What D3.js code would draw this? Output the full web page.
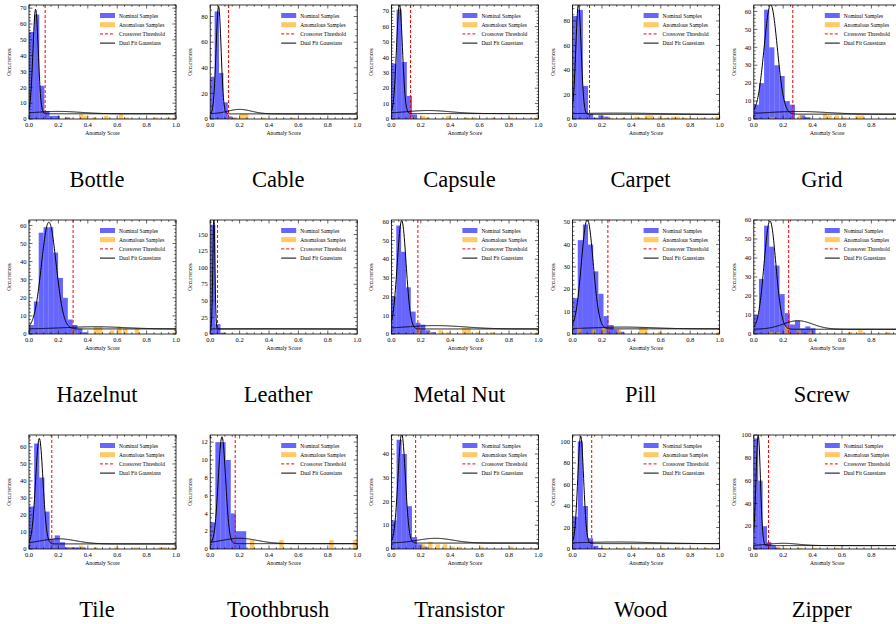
<!DOCTYPE html>
<html>
<head>
<meta charset="utf-8">
<script src="https://cdn.jsdelivr.net/npm/d3@7"></script>
<style>
body { margin: 0; background: #fff; }
svg { display: block; font-family: "Liberation Serif", "DejaVu Serif", serif; }
</style>
</head>
<body>
<div id="chart"></div>
<script>
// categories, one panel each
var categories = ["Bottle", "Cable", "Capsule", "Carpet", "Grid",
                  "Hazelnut", "Leather", "Metal Nut", "Pill", "Screw",
                  "Tile", "Toothbrush", "Transistor", "Wood", "Zipper"];

// nominal histogram: bin width and counts from 0
var nominalWidth = [0.035, 0.03, 0.035, 0.035, 0.035, 0.033, 0.035, 0.033, 0.035, 0.035, 0.035, 0.035, 0.035, 0.035, 0.03];
var nominalCounts = [
  [55, 66, 21, 5, 2, 2, 0, 1],
  [33, 84, 36, 13, 2, 1],
  [36, 71, 37, 15, 3],
  [84, 89, 27, 4, 1, 3, 2],
  [8, 20, 61, 40, 30, 24, 10, 8, 0, 2, 1],
  [5, 18, 56, 59, 59, 45, 31, 20, 8, 5, 3, 1],
  [165, 15, 2],
  [20, 58, 44, 25, 12, 6, 5, 2, 1],
  [16, 42, 49, 40, 28, 18, 8, 4, 2, 1],
  [10, 29, 57, 46, 36, 21, 11, 5, 7, 3, 4, 3],
  [25, 62, 42, 22, 6, 8, 4, 1, 1, 1, 1],
  [3, 12, 12, 10, 4, 2, 2],
  [12, 46, 40, 18, 5, 2, 1],
  [30, 100, 40, 10, 3, 1],
  [97, 60, 20, 6, 3, 1]
];

// anomalous histogram: [bin left edge, count]
var anomalousWidth = 0.03;
var anomalousBins = [
  [[0.25, 1], [0.34, 3], [0.37, 2], [0.43, 1], [0.51, 2], [0.61, 3], [0.65, 1], [0.85, 1], [0.93, 1], [0.98, 1]],
  [[0.13, 1], [0.16, 1], [0.2, 4], [0.23, 4], [0.35, 1], [0.55, 1], [0.98, 1]],
  [[0.13, 1], [0.2, 2], [0.23, 1], [0.37, 2], [0.5, 1], [0.55, 1], [0.68, 1], [0.8, 1], [0.97, 1]],
  [[0.2, 1], [0.25, 1], [0.33, 1], [0.42, 2], [0.45, 1], [0.49, 3], [0.52, 3], [0.58, 2], [0.62, 1], [0.67, 2], [0.7, 2], [0.75, 1], [0.8, 1], [0.87, 1], [0.97, 2]],
  [[0.11, 1], [0.3, 2], [0.47, 3], [0.5, 2], [0.55, 2], [0.6, 1], [0.69, 2], [0.72, 2], [0.95, 1]],
  [[0.29, 1], [0.44, 4], [0.47, 4], [0.55, 2], [0.6, 4], [0.64, 3], [0.72, 3], [0.98, 1]],
  [[0.25, 1], [0.35, 1], [0.45, 1], [0.48, 1], [0.52, 1], [0.8, 1]],
  [[0.17, 2], [0.25, 1], [0.32, 2], [0.37, 1], [0.48, 3], [0.51, 3], [0.57, 1], [0.67, 1], [0.98, 1]],
  [[0.03, 3], [0.13, 2], [0.2, 3], [0.3, 2], [0.45, 3], [0.48, 3], [0.58, 1], [0.98, 1]],
  [[0.1, 1], [0.15, 1], [0.21, 4], [0.29, 2], [0.37, 1], [0.64, 1], [0.71, 2], [0.9, 1]],
  [[0.27, 1], [0.34, 2], [0.44, 1], [0.58, 1], [0.71, 1], [0.88, 1], [0.91, 1], [0.97, 1]],
  [[0.27, 1], [0.47, 1], [0.81, 1], [0.97, 1]],
  [[0.2, 2], [0.25, 3], [0.3, 2], [0.35, 2], [0.4, 1], [0.45, 1], [0.6, 1], [0.8, 1]],
  [[0.2, 1], [0.3, 1], [0.4, 2], [0.5, 1], [0.6, 1], [0.7, 2], [0.8, 1], [0.9, 1]],
  [[0.15, 2], [0.2, 1], [0.3, 1], [0.4, 1], [0.55, 1]]
];

// crossover thresholds
var thresholds = [0.11, 0.125, 0.13, 0.115, 0.265, 0.30, 0.05, 0.18, 0.24, 0.237, 0.155, 0.17, 0.165, 0.13, 0.10];

// fitted gaussians: nominal [amp, mean, sd], anomalous [amp, mean, sd, offset]
var nominalFit = [
  [66, 0.045, 0.018], [84, 0.057, 0.017], [71, 0.055, 0.02], [90, 0.04, 0.018], [61, 0.115, 0.045],
  [59, 0.135, 0.05], [168, 0.025, 0.007], [58, 0.07, 0.03], [49, 0.1, 0.04], [57, 0.11, 0.04],
  [62, 0.07, 0.025], [12, 0.08, 0.025], [46, 0.07, 0.025], [100, 0.055, 0.02], [97, 0.03, 0.015]
];
var anomalousFit = [
  [1.5, 0.2, 0.15, 3.3], [3.5, 0.2, 0.08, 4], [2, 0.25, 0.15, 3.5], [1, 0.3, 0.3, 3.8], [1.5, 0.3, 0.2, 2.7],
  [1.2, 0.45, 0.2, 2.8], [0.5, 0.4, 0.3, 7.5], [1.8, 0.3, 0.2, 2.7], [0.8, 0.35, 0.2, 2.3], [4.5, 0.3, 0.1, 2.5],
  [3, 0.2, 0.12, 3], [0.6, 0.2, 0.12, 0.6], [2, 0.3, 0.12, 2.5], [1.5, 0.3, 0.25, 5], [2, 0.2, 0.1, 3]
];

// y axis top and major tick step
var yTop = [72, 89, 74, 93, 63.6, 63, 172, 61, 51, 60, 67, 12.8, 48, 106, 100];
var yStep = [10, 20, 10, 20, 10, 10, 25, 10, 10, 10, 10, 2, 10, 20, 20];

var legendLabels = ["Nominal Samples", "Anomalous Samples", "Crossover Threshold", "Dual Fit Gaussians"];

var W = 896, H = 624;
var plotW = 147, plotH = 114;
var colLeft = 29, colPitch = 181.2;
var rowTop = [5, 220, 435];

var svg = d3.select("#chart").append("svg")
  .attr("width", W).attr("height", H);

function gauss(x, a, m, s) {
  return a * Math.exp(-(x - m) * (x - m) / (2 * s * s));
}

categories.forEach(function(name, i) {
  var col = i % 5, row = Math.floor(i / 5);
  var x0 = colLeft + col * colPitch, y0 = rowTop[row];
  var g = svg.append("g").attr("transform", "translate(" + x0 + "," + y0 + ")");

  var x = d3.scaleLinear().domain([0, 1]).range([0, plotW]);
  var y = d3.scaleLinear().domain([0, yTop[i]]).range([plotH, 0]);

  var clipId = "clip" + i;
  g.append("clipPath").attr("id", clipId)
    .append("rect").attr("width", plotW).attr("height", plotH);
  var plot = g.append("g").attr("clip-path", "url(#" + clipId + ")");

  // nominal bars
  plot.selectAll("rect.nom")
    .data(nominalCounts[i])
    .enter()
    .append("rect")
    .attr("class", "nom")
    .attr("x", function(d, k) { return x(k * nominalWidth[i]); })
    .attr("width", x(nominalWidth[i]) - x(0))
    .attr("y", function(d) { return y(d); })
    .attr("height", function(d) { return y(0) - y(d); })
    .attr("fill", "blue")
    .attr("fill-opacity", 0.6);

  // anomalous bars
  plot.selectAll("rect.ano")
    .data(anomalousBins[i])
    .enter()
    .append("rect")
    .attr("class", "ano")
    .attr("x", function(d) { return x(d[0]); })
    .attr("width", x(anomalousWidth) - x(0))
    .attr("y", function(d) { return y(d[1]); })
    .attr("height", function(d) { return y(0) - y(d[1]); })
    .attr("fill", "orange")
    .attr("fill-opacity", 0.6);

  // threshold
  plot.append("line")
    .attr("x1", x(thresholds[i])).attr("x2", x(thresholds[i]))
    .attr("y1", 0).attr("y2", plotH)
    .attr("stroke", "red").attr("stroke-width", 1)
    .attr("stroke-dasharray", "3,2");

  // gaussian curves
  var xs = d3.range(0, 1.0001, 0.0025);
  var nf = nominalFit[i], af = anomalousFit[i];
  var line = d3.line()
    .x(function(d) { return x(d[0]); })
    .y(function(d) { return y(d[1]); });
  var nomCurve = xs.map(function(v) { return [v, gauss(v, nf[0], nf[1], nf[2]) + af[3]]; });
  var anoCurve = xs.map(function(v) { return [v, gauss(v, af[0], af[1], af[2]) + af[3]]; });
  [nomCurve, anoCurve].forEach(function(c) {
    plot.append("path")
      .attr("d", line(c))
      .attr("fill", "none")
      .attr("stroke", "black")
      .attr("stroke-width", 1);
  });

  // ticks inward on all sides
  var xMajor = d3.range(0, 1.0001, 0.2);
  var xMinor = d3.range(0, 1.0001, 0.05);
  var ymaj = d3.range(0, yTop[i] + 1e-9, yStep[i]);
  var ndiv = (yStep[i] === 10 || yStep[i] === 5 || yStep[i] === 1) ? 5 : 4;
  var yMinor = d3.range(0, yTop[i] + 1e-9, yStep[i] / ndiv);

  var tk = g.append("g").attr("stroke", "black").attr("stroke-width", 0.6);
  xMinor.forEach(function(v) {
    var len = xMajor.some(function(m) { return Math.abs(m - v) < 1e-6; }) ? 3.5 : 1.8;
    tk.append("line").attr("x1", x(v)).attr("x2", x(v)).attr("y1", plotH).attr("y2", plotH - len);
    tk.append("line").attr("x1", x(v)).attr("x2", x(v)).attr("y1", 0).attr("y2", len);
  });
  yMinor.forEach(function(v) {
    var len = ymaj.some(function(m) { return Math.abs(m - v) < 1e-6; }) ? 3.5 : 1.8;
    tk.append("line").attr("y1", y(v)).attr("y2", y(v)).attr("x1", 0).attr("x2", len);
    tk.append("line").attr("y1", y(v)).attr("y2", y(v)).attr("x1", plotW).attr("x2", plotW - len);
  });

  g.append("rect")
    .attr("width", plotW).attr("height", plotH)
    .attr("fill", "none").attr("stroke", "black").attr("stroke-width", 0.8);

  // tick labels
  g.selectAll("text.xt")
    .data(xMajor)
    .enter()
    .append("text")
    .attr("x", function(d) { return x(d); })
    .attr("y", plotH + 8)
    .attr("text-anchor", "middle")
    .attr("font-size", 6.5)
    .text(function(d) { return d.toFixed(1); });
  g.selectAll("text.yt")
    .data(ymaj)
    .enter()
    .append("text")
    .attr("x", -2.5)
    .attr("y", function(d) { return y(d) + 2.2; })
    .attr("text-anchor", "end")
    .attr("font-size", 6.5)
    .text(function(d) { return d; });

  g.append("text")
    .attr("x", plotW / 2).attr("y", plotH + 16)
    .attr("text-anchor", "middle").attr("font-size", 5.5)
    .text("Anomaly Score");
  g.append("text")
    .attr("transform", "translate(" + (-18) + "," + (plotH / 2) + ") rotate(-90)")
    .attr("text-anchor", "middle").attr("font-size", 5.5)
    .text("Occurrences");

  // legend
  var lg = g.append("g").attr("transform", "translate(71,8)");
  legendLabels.forEach(function(lab, k) {
    var ly = k * 9.2;
    if (k === 0 || k === 1) {
      lg.append("rect").attr("x", 0).attr("y", ly).attr("width", 15).attr("height", 5)
        .attr("fill", k === 0 ? "blue" : "orange").attr("fill-opacity", 0.6);
    } else {
      lg.append("line").attr("x1", 0).attr("x2", 15).attr("y1", ly + 2.5).attr("y2", ly + 2.5)
        .attr("stroke", k === 2 ? "red" : "black").attr("stroke-width", 1)
        .attr("stroke-dasharray", k === 2 ? "3,2" : null);
    }
    lg.append("text").attr("x", 19).attr("y", ly + 4.5)
      .attr("font-size", 5.5).text(lab);
  });

  // panel title
  svg.append("text")
    .attr("x", x0 + 68).attr("y", y0 + 182)
    .attr("text-anchor", "middle").attr("font-size", 22.5)
    .text(name);
});
</script>
</body>
</html>
